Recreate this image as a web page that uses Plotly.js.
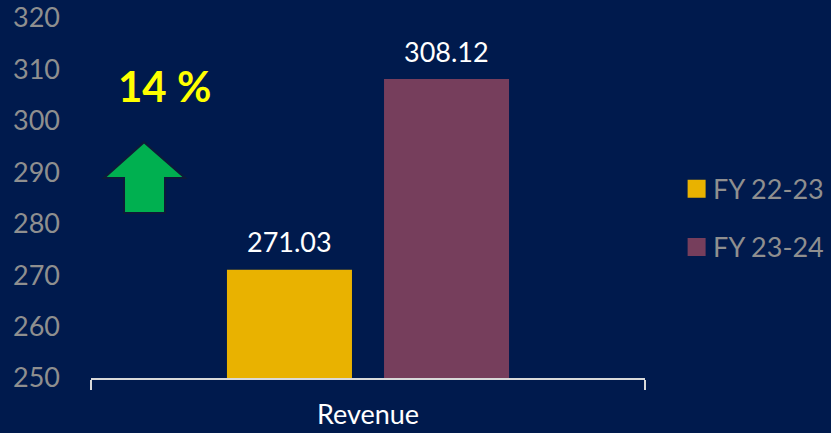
<!DOCTYPE html>
<html><head><meta charset="utf-8">
<script src="https://cdn.plot.ly/plotly-3.0.1.min.js"></script>
<style>html,body{margin:0;padding:0;background:#001A4D;}</style>
</head><body>
<div id="chart" style="width:831px;height:433px;"></div>
<script>
const categories = ["Revenue"];
const seriesNames = ["FY 22-23", "FY 23-24"];
const fy2223 = [271.03];
const fy2324 = [308.12];
const growthLabel = "14 %";
const yTicks = [250, 260, 270, 280, 290, 300, 310, 320];

const colors = ["#E9B200", "#763E5C"];
const seriesValues = [fy2223, fy2324];
const FONT = "Lato, 'Open Sans', sans-serif";

const traces = seriesValues.map((vals, i) => ({
  type: "bar",
  name: seriesNames[i],
  x: categories,
  y: vals,
  marker: {color: colors[i]},
  legendgroup: "g" + i,
  hoverinfo: "none"
}));

const annotations = [];
seriesValues.forEach((vals, i) => {
  vals.forEach((v, j) => {
    annotations.push({
      x: categories[j], y: v, xref: "x", yref: "y",
      text: v.toFixed(2), showarrow: false,
      xanchor: "center", yanchor: "middle",
      xshift: (i === 0 ? -78.5 : 78.5), yshift: 28,
      font: {family: FONT, size: 27, color: "#FFFFFF"}
    });
  });
});
annotations.push({
  x: 0.132, y: 0.81, xref: "paper", yref: "paper",
  xanchor: "center", yanchor: "middle",
  text: "<b>" + growthLabel + "</b>", showarrow: false,
  font: {family: FONT, size: 42, color: "#FFFF00"}
});

const arrowPath = "M 0.0957 0.655 L 0.1697 0.5556 L 0.1336 0.5556 L 0.1336 0.4583 L 0.0596 0.4583 L 0.0596 0.5556 L 0.0235 0.5556 Z";

const layout = {
  width: 831, height: 433,
  paper_bgcolor: "#001A4D", plot_bgcolor: "#001A4D",
  margin: {l: 91, r: 186, t: 18, b: 55},
  barmode: "group", bargap: 0.433, bargroupgap: 0.204,
  showlegend: true,
  legend: {xref: "container", yref: "container", x: 0.81, y: 0.496, xanchor: "left", yanchor: "middle",
    font: {family: FONT, size: 27, color: "#8F8F8F"},
    tracegroupgap: 20, bgcolor: "rgba(0,0,0,0)"},
  xaxis: {
    type: "category", showline: true, linecolor: "#D9D9D9", linewidth: 1.5,
    ticks: "outside", tickson: "boundaries", ticklen: 10, tickcolor: "#D9D9D9", tickwidth: 1.5,
    showticklabels: false, showgrid: false, zeroline: false,
    title: {text: "Revenue", standoff: 26, font: {family: FONT, size: 27, color: "#FFFFFF"}}
  },
  yaxis: {
    range: [250, 320], tickvals: yTicks, ticktext: yTicks.map(String),
    showgrid: false, zeroline: false, showline: false,
    ticklabelstandoff: 30,
    tickfont: {family: FONT, size: 27, color: "#8F8F8F"}
  },
  annotations: annotations,
  shapes: [{type: "path", xref: "paper", yref: "paper", path: arrowPath,
    fillcolor: "#00B050", line: {color: "#0D1A3A", width: 2}, layer: "above"}]
};

Plotly.newPlot("chart", traces, layout, {displayModeBar: false, staticPlot: true}).then(gd => {
  gd.querySelectorAll(".legend .legendpoints path").forEach(p => {
    p.setAttribute("d", "M12.5,9H-5.5V-9H12.5Z");
    p.style.strokeWidth = "0";
  });
});
</script>
</body></html>
